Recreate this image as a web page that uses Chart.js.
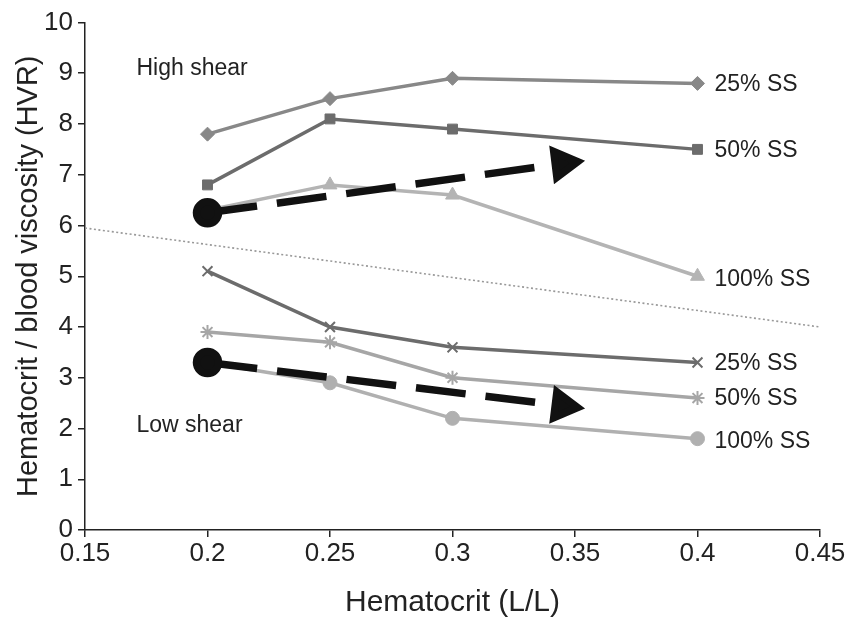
<!DOCTYPE html>
<html lang="en">
<head>
    <meta charset="UTF-8">
    <script src="https://cdn.jsdelivr.net/npm/chart.js"></script>
    <title>HVR vs Hematocrit</title>
    <style>
        body { margin: 0; background: #fff; }
        #wrap { width: 847px; height: 629px; }
    </style>
</head>
<body>
    <div id="wrap"><canvas id="hvrChart" width="847" height="629"></canvas></div>

    <script>
        // hematocrit values (L/L)
        const hct = [0.2, 0.25, 0.3, 0.4];

        // high shear series
        const high25 = [7.8, 8.5, 8.9, 8.8];
        const high50 = [6.8, 8.1, 7.9, 7.5];
        const high100 = [6.3, 6.8, 6.6, 5.0];

        // low shear series
        const low25 = [5.1, 4.0, 3.6, 3.3];
        const low50 = [3.9, 3.7, 3.0, 2.6];
        const low100 = [3.3, 2.9, 2.2, 1.8];

        // trend arrows (start, end)
        const arrowHighX = [0.2, 0.345];
        const arrowHighY = [6.25, 7.22];
        const arrowLowX = [0.2, 0.345];
        const arrowLowY = [3.3, 2.45];

        // dividing dotted line
        const dividerX = [0.15, 0.45];
        const dividerY = [5.95, 4.0];

        const seriesLabels = ['25% SS', '50% SS', '100% SS', '25% SS', '50% SS', '100% SS'];
        const xTicks = [0.15, 0.2, 0.25, 0.3, 0.35, 0.4, 0.45];

        const FONT = "'Liberation Sans', Arial, sans-serif";

        function pts(xs, ys) {
            return xs.map((x, i) => ({ x: x, y: ys[i] }));
        }

        function series(ys, color, style, radius, label) {
            return {
                label: label,
                data: pts(hct, ys),
                borderColor: color,
                backgroundColor: color,
                borderWidth: 3.5,
                pointStyle: style,
                pointRadius: radius,
                pointBorderWidth: style === 'crossRot' || style === 'star' ? 2 : 1,
                pointBorderColor: color,
                pointBackgroundColor: color,
                tension: 0
            };
        }

        function arrow(xs, ys, rot) {
            return {
                label: 'arrow',
                data: pts(xs, ys),
                borderColor: '#111',
                backgroundColor: '#111',
                borderWidth: 7.5,
                borderDash: [50, 20],
                pointStyle: ['circle', 'triangle'],
                pointRadius: [11, 15],
                pointRotation: [0, rot],
                pointBackgroundColor: '#111',
                pointBorderColor: '#111'
            };
        }

        // first dataset is drawn on top
        const datasets = [
            arrow(arrowHighX, arrowHighY, 83),
            arrow(arrowLowX, arrowLowY, 97),
            series(high25, '#888888', 'rectRot', 7, seriesLabels[0]),
            series(high50, '#6c6c6c', 'rect', 7, seriesLabels[1]),
            series(high100, '#b4b4b4', 'triangle', 8, seriesLabels[2]),
            series(low25, '#6c6c6c', 'crossRot', 7, seriesLabels[3]),
            series(low50, '#a6a6a6', 'star', 7, seriesLabels[4]),
            series(low100, '#b0b0b0', 'circle', 7, seriesLabels[5]),
            {
                label: 'divider',
                data: pts(dividerX, dividerY),
                borderColor: '#999',
                borderWidth: 1.6,
                borderDash: [2, 2.5],
                pointRadius: 0
            }
        ];

        // text annotations drawn through the scales
        const annotate = {
            id: 'annotate',
            afterDatasetsDraw(chart) {
                const ctx = chart.ctx;
                const xs = chart.scales.x;
                const ys = chart.scales.y;
                ctx.save();
                ctx.fillStyle = '#222';
                ctx.font = '23px ' + FONT;
                ctx.textBaseline = 'middle';
                ctx.textAlign = 'left';
                const ends = [high25, high50, high100, low25, low50, low100];
                ends.forEach((s, i) => {
                    const px = xs.getPixelForValue(hct[hct.length - 1]) + 17;
                    const py = ys.getPixelForValue(s[s.length - 1]) + (i === 2 || i === 5 ? 3 : 1);
                    ctx.fillText(seriesLabels[i], px, py);
                });
                ctx.fillText('High shear', xs.getPixelForValue(0.171), ys.getPixelForValue(9.1));
                ctx.fillText('Low shear', xs.getPixelForValue(0.171), ys.getPixelForValue(2.05));
                ctx.restore();
            }
        };

        new Chart(document.getElementById('hvrChart').getContext('2d'), {
            type: 'line',
            data: { datasets: datasets },
            plugins: [annotate],
            options: {
                responsive: false,
                animation: false,
                layout: { padding: { top: 16, right: 27, left: 0, bottom: 0 } },
                plugins: {
                    legend: { display: false },
                    tooltip: { enabled: false }
                },
                scales: {
                    x: {
                        type: 'linear',
                        min: 0.15,
                        max: 0.45,
                        afterBuildTicks: (s) => { s.ticks = xTicks.map(v => ({ value: v })); },
                        afterFit: (s) => { s.height = 99; },
                        border: { color: '#222', width: 1.5 },
                        grid: { drawOnChartArea: false, color: '#222', tickLength: 7, lineWidth: 1.5 },
                        ticks: {
                            color: '#222',
                            font: { family: FONT, size: 26 },
                            padding: 1,
                            callback: (v) => String(Number(v.toFixed(2)))
                        },
                        title: {
                            display: true,
                            text: 'Hematocrit (L/L)',
                            color: '#222',
                            font: { family: FONT, size: 30 },
                            padding: { top: 0, bottom: 8 }
                        }
                    },
                    y: {
                        min: 0,
                        max: 10,
                        afterFit: (s) => { s.width = 85; },
                        border: { color: '#222', width: 1.5 },
                        grid: { drawOnChartArea: false, color: '#222', tickLength: 7, lineWidth: 1.5 },
                        ticks: {
                            stepSize: 1,
                            color: '#222',
                            font: { family: FONT, size: 26 },
                            padding: 5
                        },
                        title: {
                            display: true,
                            text: 'Hematocrit / blood viscosity (HVR)',
                            color: '#222',
                            font: { family: FONT, size: 29 },
                            padding: { top: 12, bottom: 0 }
                        }
                    }
                }
            }
        });
    </script>
</body>
</html>
